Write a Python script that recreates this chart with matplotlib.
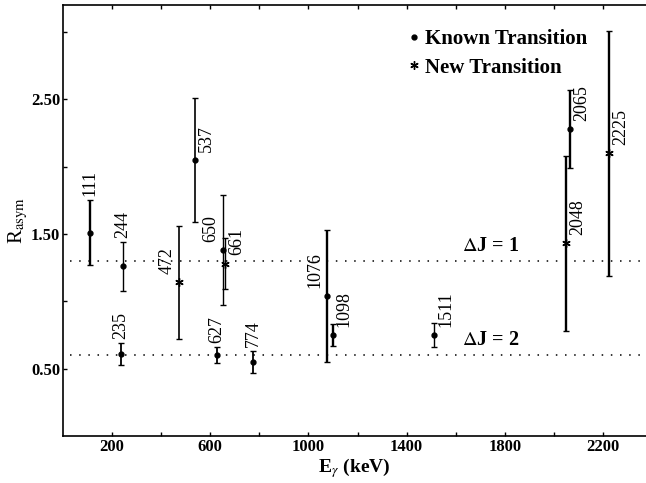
import matplotlib
matplotlib.use("Agg")
import matplotlib.pyplot as plt
from matplotlib.lines import Line2D

plt.rcParams['font.family'] = ['Liberation Serif', 'DejaVu Serif']
plt.rcParams['mathtext.fontset'] = 'stix'

# known transitions
known_e = [111, 235, 244, 537, 627, 650, 774, 1076, 1098, 1511, 2065]
known_r = [1.51, 0.61, 1.26, 2.05, 0.60, 1.38, 0.55, 1.04, 0.75, 0.75, 2.28]
known_err = [0.24, 0.08, 0.18, 0.46, 0.06, 0.41, 0.08, 0.49, 0.08, 0.09, 0.29]

# new transitions
new_e = [472, 661, 2048, 2225]
new_r = [1.14, 1.28, 1.43, 2.10]
new_err = [0.42, 0.19, 0.65, 0.91]

dj1 = 1.30
dj2 = 0.60

# label placement: side ('a' above bar, 'l' left, 'r' right), bar width
known_side = ['a', 'a', 'a', 'r', 'a', 'l', 'a', 'l', 'r', 'r', 'r']
known_lw = [1.7, 1.3, 1.0, 1.2, 1.3, 1.0, 1.3, 1.7, 1.7, 1.0, 1.7]
new_side = ['l', 'r', 'r', 'r']
new_lw = [1.2, 1.0, 1.7, 1.7]

fig = plt.figure(figsize=(6.46, 4.83), dpi=100)
ax = fig.add_axes([63/646, 47/483, 583/646, 431/483])

def draw(es, rs, errs, lws, sides, marker, ms):
    for e, r, er, lw, side in zip(es, rs, errs, lws, sides):
        ax.errorbar(e, r, yerr=er, fmt='none', ecolor='black',
                    elinewidth=lw, capsize=2.5, capthick=1.0)
        ax.plot(e, r, marker=marker, color='black', ms=ms, mew=1.0, ls='none')
        if side == 'a':
            ax.annotate(str(e), (e, r + er), xytext=(0, 3), textcoords='offset points',
                        rotation=90, ha='center', va='bottom', fontsize=13)
        else:
            dx = 8.5 if side == 'r' else -8.5
            ax.annotate(str(e), (e, r), xytext=(dx, 6), textcoords='offset points',
                        rotation=90, ha='center', va='bottom', fontsize=13)

draw(known_e, known_r, known_err, known_lw, known_side, 'o', 3.5)
draw(new_e, new_r, new_err, new_lw, new_side, (6, 2, 0), 6)

ax.hlines([dj1, dj2], 30, 2400, colors='black', lw=1.1, linestyles=[(0, (1, 5))])
ax.text(1625, dj1 + 0.035, r'$\Delta$J = 1', fontsize=14.5, fontweight='bold', va='bottom')
ax.text(1625, dj2 + 0.035, r'$\Delta$J = 2', fontsize=14.5, fontweight='bold', va='bottom')

ax.set_xlim(0, 2375)
ax.set_ylim(0, 3.2)
xt = list(range(200, 2400, 200))
ax.set_xticks(xt)
ax.set_xticklabels([str(v) if (v - 200) % 400 == 0 else '' for v in xt])
yt = [0.5, 1.0, 1.5, 2.0, 2.5, 3.0]
ax.set_yticks(yt)
ax.set_yticklabels(['0.50', '', '1.50', '', '2.50', ''])
ax.tick_params(direction='in', length=3, width=1, top=True, right=False, labelsize=12, pad=2)
for lab in ax.get_xticklabels() + ax.get_yticklabels():
    lab.set_fontweight('semibold')
ax.spines['right'].set_visible(False)
for s in ['left', 'bottom', 'top']:
    ax.spines[s].set_linewidth(1.2)

ax.set_xlabel(r'E$_\gamma$ (keV)', fontsize=14, fontweight='bold', labelpad=1)
ax.set_ylabel(r'R$_{\rm asym}$', fontsize=15, labelpad=1)

handles = [Line2D([], [], color='black', marker='o', ms=3.5, ls='none'),
           Line2D([], [], color='black', marker=(6, 2, 0), ms=6, mew=1.0, ls='none')]
ax.legend(handles, ['Known Transition', 'New Transition'], loc='upper left',
          bbox_to_anchor=(0.575, 0.968), frameon=False, handlelength=0.5,
          handletextpad=0.3, borderpad=0, labelspacing=0.4,
          prop={'size': 15, 'weight': 'bold'})

fig.savefig('out.png', dpi=100)
